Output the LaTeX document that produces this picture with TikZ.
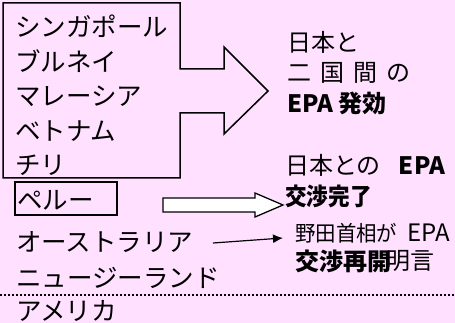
\documentclass[tikz,border=0pt]{standalone}
\usepackage{fontspec}
\setmainfont{Noto Sans CJK JP}
\usetikzlibrary{arrows.meta}
\definecolor{bg}{HTML}{FFE1FF}
\begin{document}
\begin{tikzpicture}[x=1pt,y=-1pt,
  txt/.style={anchor=west,inner sep=0pt,font=\fontsize{25.5}{25.5}\selectfont},
  rtxt/.style={anchor=west,inner sep=0pt,font=\fontsize{24}{24}\selectfont},
  outline/.style={draw=black,line width=1.5pt}]
\fill[bg] (0,0) rectangle (455,323);
\useasboundingbox (0,0) rectangle (455,323);
% big box with arrow
\draw[outline,fill=bg,line join=miter] (3,3) -- (180,3) -- (180,69) -- (224,69) -- (224,47) -- (268,91) -- (224,134) -- (224,113) -- (180,113) -- (180,178) -- (3,178) -- cycle;
\node[txt] (sg) at (15,26) {シンガポール};
\node[txt] (bn) at (15,61) {ブルネイ};
\node[txt] (my) at (15,96) {マレーシア};
\node[txt] (vn) at (15,131) {ベトナム};
\node[txt] (cl) at (15,165) {チリ};
% Peru box
\draw[outline] (15,182) rectangle (117,215);
\node[txt] (pe) at (17,200) {ペルー};
% hollow arrow
\draw[draw=black,line width=1.3pt,fill=white] (163,198) -- (255,198) -- (255,193) -- (283,205) -- (255,217) -- (255,212) -- (163,212) -- cycle;
\node[txt] (au) at (16,242) {オーストラリア};
\node[txt] (nz) at (16,278) {ニュージーランド};
\node[txt] (us) at (16,311) {アメリカ};
% dotted line
\coordinate (d1) at (0,295);
\coordinate (d2) at (455,295);
\draw[line width=2pt,dash pattern=on 2pt off 2pt] (d1) -- (d2);
% right texts
\node[rtxt] (r1) at (287,42) {日本と};
\node[rtxt] (r2) at (287,73) {二\hspace{9pt}国\hspace{9pt}間\hspace{9pt}の};
\node[rtxt,font=\fontsize{24}{24}\selectfont\bfseries] (r3) at (287,103) {EPA 発効};
\node[rtxt] (r4) at (285,165) {日本との\hspace{18pt}\textbf{EPA}};
\node[rtxt,font=\fontsize{24}{24}\selectfont\bfseries] (r5) at (285,196) {\scalebox{0.9}[1]{交渉完了}};
\node[rtxt,font=\fontsize{21.5}{21.5}\selectfont] (r6) at (295,233) {\scalebox{0.95}[1]{野田首相が}};
\node[rtxt,font=\fontsize{24}{24}\selectfont] (r6b) at (407,233) {EPA};
\node[rtxt,font=\fontsize{24}{24}\selectfont\bfseries] (r7) at (295,261) {交渉再開};
\node[rtxt] (r8) at (386,261) {明言};
% thin arrow
\coordinate (a1) at (213,243);
\coordinate (a2) at (283,238);
\draw[line width=1.2pt,-{Latex[length=10pt,width=9pt]}] (a1) -- (a2);
\end{tikzpicture}
\end{document}
